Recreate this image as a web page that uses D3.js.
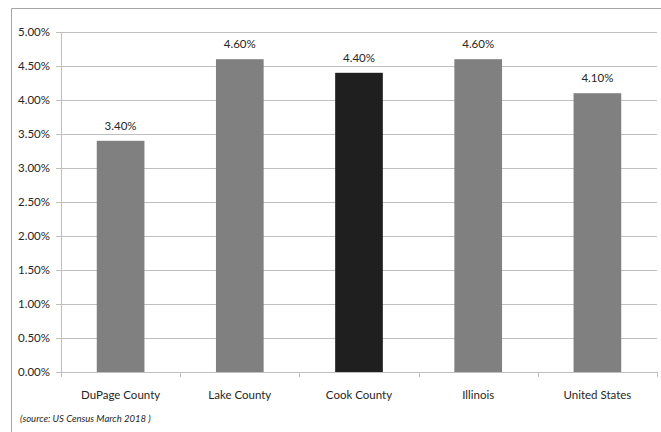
<!DOCTYPE html>
<html>
<head>
<meta charset="utf-8">
<script src="https://cdn.jsdelivr.net/npm/d3@7"></script>
<style>
  html, body { margin: 0; padding: 0; background: #fff; }
  svg { display: block; }
  text { font-family: Lato, "Open Sans", sans-serif; fill: #262626; }
</style>
</head>
<body>
<svg id="chart" width="661" height="432"></svg>
<script>
// Unemployment rate by area
const categories = ["DuPage County", "Lake County", "Cook County", "Illinois", "United States"];
const rates = [3.4, 4.6, 4.4, 4.6, 4.1];
const barColors = ["#808080", "#808080", "#1f1f1f", "#808080", "#808080"];
const yTicks = [0, 0.5, 1, 1.5, 2, 2.5, 3, 3.5, 4, 4.5, 5];
const sourceNote = "(source: US Census March 2018 )";

const svg = d3.select("#chart");
const margin = { left: 61, right: 4, top: 32, bottom: 60 };
const width = 661, height = 432;

// outer frame (top and left edges)
svg.append("path")
  .attr("d", `M11.5,${height} V8.5 H${width}`)
  .attr("fill", "none")
  .attr("stroke", "#a6a6a6")
  .attr("stroke-width", 1);

const x = d3.scaleBand()
  .domain(categories)
  .range([margin.left, width - margin.right])
  .paddingInner(0.6)
  .paddingOuter(0.3);

const y = d3.scaleLinear()
  .domain([0, 5])
  .range([height - margin.bottom, margin.top]);

// horizontal gridlines
svg.append("g")
  .selectAll("line")
  .data(yTicks)
  .join("line")
  .attr("x1", margin.left - 5)
  .attr("x2", width - margin.right)
  .attr("y1", d => Math.round(y(d)) + 0.5)
  .attr("y2", d => Math.round(y(d)) + 0.5)
  .attr("stroke", "#bfbfbf")
  .attr("stroke-width", 1.2);

// y axis labels
svg.append("g")
  .selectAll("text")
  .data(yTicks)
  .join("text")
  .attr("x", margin.left - 11)
  .attr("y", d => y(d))
  .attr("dy", "0.35em")
  .attr("text-anchor", "end")
  .attr("font-size", 11.5)
  .text(d => d3.format(".2f")(d) + "%");

// y axis line
svg.append("line")
  .attr("x1", margin.left + 0.5).attr("x2", margin.left + 0.5)
  .attr("y1", y(5)).attr("y2", y(0))
  .attr("stroke", "#bfbfbf");

// category tick marks at band boundaries
const bounds = d3.range(categories.length + 1).map(i => margin.left + i * (width - margin.right - margin.left) / categories.length);
svg.append("g")
  .selectAll("line")
  .data(bounds)
  .join("line")
  .attr("x1", d => Math.round(d) + 0.5)
  .attr("x2", d => Math.round(d) + 0.5)
  .attr("y1", y(0))
  .attr("y2", y(0) + 5)
  .attr("stroke", "#bfbfbf");

// bars
svg.append("g")
  .selectAll("rect")
  .data(categories)
  .join("rect")
  .attr("x", d => x(d))
  .attr("width", x.bandwidth())
  .attr("y", (d, i) => y(rates[i]))
  .attr("height", (d, i) => y(0) - y(rates[i]))
  .attr("fill", (d, i) => barColors[i]);

// value labels
svg.append("g")
  .selectAll("text")
  .data(categories)
  .join("text")
  .attr("x", d => x(d) + x.bandwidth() / 2)
  .attr("y", (d, i) => y(rates[i]) - 11)
  .attr("text-anchor", "middle")
  .attr("font-size", 11.5)
  .text((d, i) => d3.format(".2f")(rates[i]) + "%");

// category labels
svg.append("g")
  .selectAll("text")
  .data(categories)
  .join("text")
  .attr("x", d => x(d) + x.bandwidth() / 2)
  .attr("y", y(0) + 23)
  .attr("dy", "0.35em")
  .attr("text-anchor", "middle")
  .attr("font-size", 11.5)
  .text(d => d);

// source note
svg.append("text")
  .attr("x", 20)
  .attr("y", 422)
  .attr("font-size", 9.5)
  .attr("font-style", "italic")
  .text(sourceNote);
</script>
</body>
</html>
